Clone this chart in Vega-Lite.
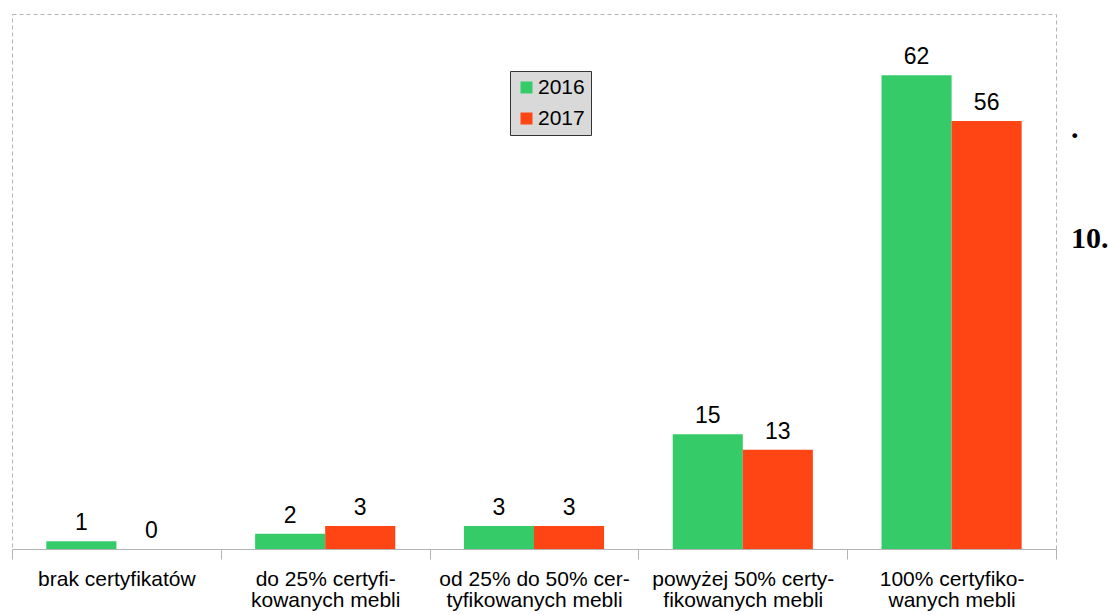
{
  "$schema": "https://vega.github.io/schema/vega-lite/v6.json",
  "width": 1044,
  "height": 535,
  "autosize": {"type": "none"},
  "padding": {"left": 12, "top": 14, "right": 53, "bottom": 66},
  "title": {
    "text": [".", "10."],
    "orient": "right",
    "angle": 0,
    "anchor": "start",
    "align": "left",
    "baseline": "alphabetic",
    "font": "Liberation Serif",
    "fontSize": 30,
    "fontWeight": "bold",
    "color": "#000000",
    "lineHeight": 110,
    "offset": -23,
    "dy": 124
  },
  "data": {
    "values": [
      {"kat": "brak certyfikatów", "rok": "2016", "wartosc": 1},
      {"kat": "brak certyfikatów", "rok": "2017", "wartosc": 0},
      {"kat": "do 25% certyfi-|kowanych mebli", "rok": "2016", "wartosc": 2},
      {"kat": "do 25% certyfi-|kowanych mebli", "rok": "2017", "wartosc": 3},
      {"kat": "od 25% do 50% cer-|tyfikowanych mebli", "rok": "2016", "wartosc": 3},
      {"kat": "od 25% do 50% cer-|tyfikowanych mebli", "rok": "2017", "wartosc": 3},
      {"kat": "powyżej 50% certy-|fikowanych mebli", "rok": "2016", "wartosc": 15},
      {"kat": "powyżej 50% certy-|fikowanych mebli", "rok": "2017", "wartosc": 13},
      {"kat": "100% certyfiko-|wanych mebli", "rok": "2016", "wartosc": 62},
      {"kat": "100% certyfiko-|wanych mebli", "rok": "2017", "wartosc": 56}
    ]
  },
  "encoding": {
    "x": {
      "field": "kat",
      "type": "nominal",
      "sort": null,
      "scale": {"paddingInner": 0, "paddingOuter": 0},
      "axis": {
        "title": null,
        "labelAngle": 0,
        "labelExpr": "split(datum.label, '|')",
        "labelFont": "Liberation Sans",
        "labelFontSize": 21,
        "labelColor": "#000000",
        "labelLineHeight": 21,
        "labelPadding": 26,
        "labelLimit": 300,
        "labelBaseline": "alphabetic",
        "tickBand": "extent",
        "tickSize": 10,
        "tickColor": "#b3b3b3",
        "domainColor": "#b3b3b3",
        "grid": false
      }
    },
    "xOffset": {
      "field": "rok",
      "type": "nominal",
      "scale": {"paddingInner": 0, "paddingOuter": 0.49}
    },
    "y": {
      "field": "wartosc",
      "type": "quantitative",
      "scale": {"domain": [0, 70], "nice": false},
      "axis": null
    }
  },
  "layer": [
    {
      "mark": {"type": "bar"},
      "encoding": {
        "color": {
          "field": "rok",
          "type": "nominal",
          "scale": {"domain": ["2016", "2017"], "range": ["#35cb69", "#ff4514"]},
          "legend": {
            "title": null,
            "orient": "none",
            "legendX": 498,
            "legendY": 57,
            "fillColor": "#d9d9d9",
            "strokeColor": "#333333",
            "padding": 6,
            "symbolType": "square",
            "symbolSize": 144,
            "symbolStrokeWidth": 0,
            "labelFont": "Liberation Sans",
            "labelFontSize": 21,
            "labelColor": "#000000",
            "labelOffset": 1,
            "rowPadding": 9
          }
        }
      }
    },
    {
      "mark": {
        "type": "text",
        "baseline": "alphabetic",
        "dy": -11,
        "font": "Liberation Sans",
        "fontSize": 23,
        "color": "#000000"
      },
      "encoding": {
        "text": {"field": "wartosc", "type": "quantitative", "format": "d"}
      }
    }
  ],
  "config": {
    "view": {"stroke": "#b3b3b3", "strokeDash": [4, 3], "strokeWidth": 1},
    "background": "#ffffff"
  }
}
